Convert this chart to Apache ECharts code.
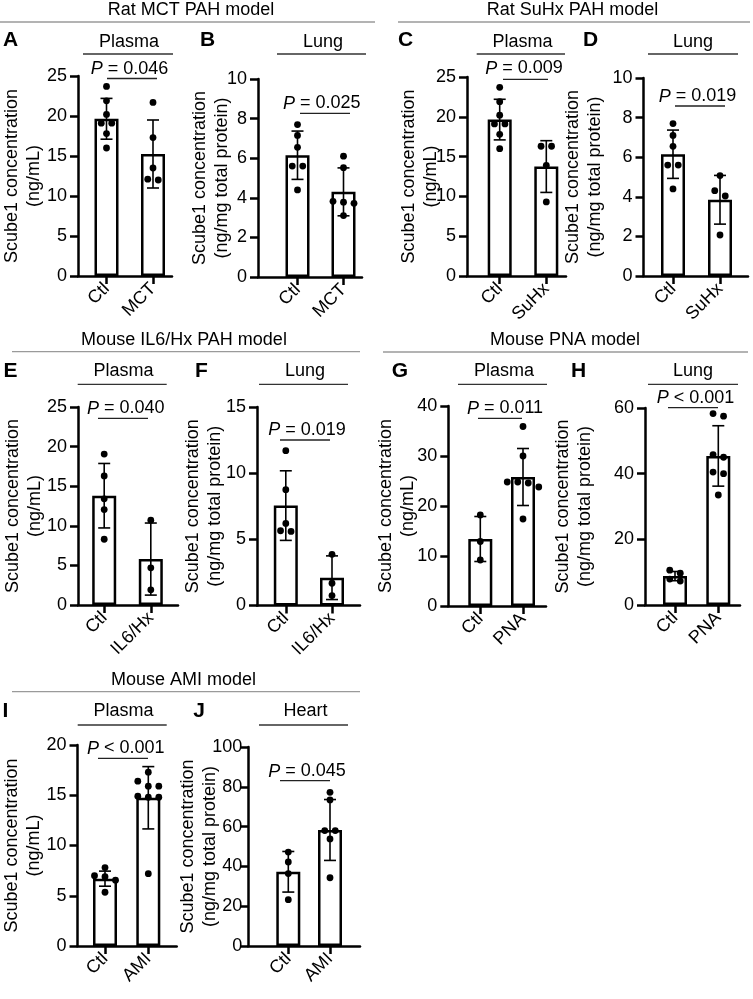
<!DOCTYPE html>
<html><head><meta charset="utf-8">
<script src="https://cdn.jsdelivr.net/npm/echarts@6/dist/echarts.min.js"></script>
<style>html,body{margin:0;padding:0;background:#fff}#c{width:753px;height:999px}</style>
</head><body><div id="c"></div>
<script>
// ===================== DATA =====================
const sectionTitles = ['Rat MCT PAH model', 'Rat SuHx PAH model', 'Mouse IL6/Hx PAH model', 'Mouse PNA model', 'Mouse AMI model'];
const panelLetters = ['A','B','C','D','E','F','G','H','I','J'];
const panelSubtitles = ['Plasma','Lung','Plasma','Lung','Plasma','Lung','Plasma','Lung','Plasma','Heart'];
const yNamePlasma = 'Scube1 concentration\n(ng/mL)';
const yNameTissue = 'Scube1 concentration\n(ng/mg total protein)';

const catsA = ['Ctl', 'MCT'];
const ticksA = [0, 5, 10, 15, 20, 25];
const meanA = [19.65, 15.25];
const sdA = [2.55, 4.25];
const ctlA = [23.7, 21.9, 20.2, 19.1, 19.1, 17.8, 16.0];
const trtA = [21.7, 17.3, 13.5, 12.1, 12.0];
const pA = '= 0.046';

const catsB = ['Ctl', 'MCT'];
const ticksB = [0, 2, 4, 6, 8, 10];
const meanB = [6.15, 4.3];
const sdB = [1.22, 1.21];
const ctlB = [7.7, 7.15, 6.55, 5.6, 5.6, 4.4];
const trtB = [6.1, 5.52, 3.82, 3.72, 3.78, 3.1];
const pB = '= 0.025';

const catsC = ['Ctl', 'SuHx'];
const ticksC = [0, 5, 10, 15, 20, 25];
const meanC = [19.65, 13.75];
const sdC = [2.55, 3.25];
const ctlC = [23.7, 21.9, 20.2, 19.1, 19.1, 17.8, 16.0];
const trtC = [16.3, 16.3, 13.9, 9.3];
const pC = '= 0.009';

const catsD = ['Ctl', 'SuHx'];
const ticksD = [0, 2, 4, 6, 8, 10];
const meanD = [6.15, 3.85];
const sdD = [1.22, 1.23];
const ctlD = [7.7, 7.1, 6.55, 5.6, 5.6, 4.4];
const trtD = [5.07, 4.31, 4.04, 2.07];
const pD = '= 0.019';

const catsE = ['Ctl', 'IL6/Hx'];
const ticksE = [0, 5, 10, 15, 20, 25];
const meanE = [13.8, 5.8];
const sdE = [4.07, 4.55];
const ctlE = [19.05, 16.3, 13.4, 12.05, 8.3];
const trtE = [10.7, 4.7, 1.92];
const pE = '= 0.040';

const catsF = ['Ctl', 'IL6/Hx'];
const ticksF = [0, 5, 10, 15];
const meanF = [7.55, 2.1];
const sdF = [2.63, 1.65];
const ctlF = [11.7, 8.75, 6.2, 5.65, 5.6];
const trtF = [3.87, 1.68, 0.75];
const pF = '= 0.019';

const catsG = ['Ctl', 'PNA'];
const ticksG = [0, 10, 20, 30, 40];
const meanG = [13.4, 25.8];
const sdG = [4.5, 5.7];
const ctlG = [18.2, 12.9, 9.2];
const trtG = [35.9, 30.0, 24.8, 24.8, 24.6, 23.8, 17.4];
const pG = '= 0.011';

const catsH = ['Ctl', 'PNA'];
const ticksH = [0, 20, 40, 60];
const meanH = [8.8, 45.4];
const sdH = [1.4, 9.2];
const ctlH = [10.6, 9.7, 7.9, 7.3];
const trtH = [58.3, 57.5, 45.8, 45.0, 40.5, 40.0, 33.5];
const pH = '< 0.001';

const catsI = ['Ctl', 'AMI'];
const ticksI = [0, 5, 10, 15, 20];
const meanI = [6.7, 14.75];
const sdI = [0.75, 3.1];
const ctlI = [7.8, 7.0, 6.9, 6.55, 5.35];
const trtI = [17.3, 16.4, 15.9, 15.9, 14.9, 14.8, 14.8, 7.2];
const pI = '< 0.001';

const catsJ = ['Ctl', 'AMI'];
const ticksJ = [0, 20, 40, 60, 80, 100];
const meanJ = [37.3, 58.3];
const sdJ = [10.2, 15.3];
const ctlJ = [47.2, 42.2, 36.4, 23.3];
const trtJ = [77.2, 73.4, 58.0, 58.0, 53.8, 34.3];
const pJ = '= 0.045';

// ===================== LAYOUT (pixels) =====================
const FONT = '"Liberation Sans", Arial, Helvetica, sans-serif';
const FS = 18;
const L = {
 A: {yx:78, end:172, t1:106.5, t2:153, top:76, bot:276, gap:33, lm:11, letter:[10.5,40], sub:[129,42.5], subLine:[83,173,54], p:[129.5,69], pLine:[107,157,78.5]},
 B: {yx:258, end:362, t1:297.5, t2:343.5, top:79, bot:277, gap:25, lm:11, letter:[207.5,40], sub:[323,42.5], subLine:[277,366,54], p:[321.7,103.5], pLine:[300,350,113.3]},
 C: {yx:467, end:566, t1:499.7, t2:546.3, top:77, bot:276, gap:25, lm:11, letter:[405.5,40], sub:[522.5,42.5], subLine:[476.7,565,54], p:[524,68.5], pLine:[503,548,79.3]},
 D: {yx:643.5, end:748, t1:673, t2:720, top:78, bot:276, gap:37, lm:11, letter:[590.5,40], sub:[693,42.5], subLine:[648,738,54], p:[697.5,96.5], pLine:[675,725,106]},
 E: {yx:78, end:178, t1:104.2, t2:150.8, top:407, bot:605, gap:32, lm:11, letter:[10.5,371], sub:[123.5,371.5], subLine:[77.7,166.7,384.3], p:[125.7,408.5], pLine:[98,148,418.3]},
 F: {yx:257, end:360, t1:285.8, t2:332, top:407, bot:605.5, gap:31, lm:11, letter:[201.5,371], sub:[305,371.5], subLine:[259,348,384.3], p:[307,430], pLine:[280,330,440]},
 G: {yx:448.3, end:546, t1:480.3, t2:523, top:406, bot:606, gap:29, lm:11, letter:[400,371], sub:[504,371.5], subLine:[458,547,384.3], p:[505,408.5], pLine:[478,522,418.3]},
 H: {yx:645, end:740, t1:675, t2:718.3, top:408, bot:605, gap:49, lm:11, letter:[578.5,371], sub:[693,371.5], subLine:[648,738,384.3], p:[695.5,398], pLine:[668,718,407.7]},
 I: {yx:77.5, end:176.7, t1:105, t2:148.3, top:745, bot:946, gap:32, lm:11, letter:[5.5,711], sub:[123.5,711], subLine:[77.7,166.7,725], p:[125.7,748.5], pLine:[98,148,758.3]},
 J: {yx:248.3, end:360, t1:288.3, t2:330, top:747, bot:946, gap:27, lm:6, letter:[199,711], sub:[305.5,711], subLine:[259,348,725], p:[307,771.5], pLine:[280,330,780.7]}
};
const sectionLayout = [
 {x:191, y:10.5, line:[0,375,22]},
 {x:572.5, y:10.5, line:[398,750,22]},
 {x:184, y:340, line:[12,360,351.7]},
 {x:565, y:340, line:[383,748,352]},
 {x:183.5, y:680.3, line:[12,360,691.7]}
];

const panels = [
 {id:'A', cats:catsA, ticks:ticksA, mean:meanA, sd:sdA, ctl:ctlA, trt:trtA, p:pA, yName:yNamePlasma},
 {id:'B', cats:catsB, ticks:ticksB, mean:meanB, sd:sdB, ctl:ctlB, trt:trtB, p:pB, yName:yNameTissue},
 {id:'C', cats:catsC, ticks:ticksC, mean:meanC, sd:sdC, ctl:ctlC, trt:trtC, p:pC, yName:yNamePlasma},
 {id:'D', cats:catsD, ticks:ticksD, mean:meanD, sd:sdD, ctl:ctlD, trt:trtD, p:pD, yName:yNameTissue},
 {id:'E', cats:catsE, ticks:ticksE, mean:meanE, sd:sdE, ctl:ctlE, trt:trtE, p:pE, yName:yNamePlasma},
 {id:'F', cats:catsF, ticks:ticksF, mean:meanF, sd:sdF, ctl:ctlF, trt:trtF, p:pF, yName:yNameTissue},
 {id:'G', cats:catsG, ticks:ticksG, mean:meanG, sd:sdG, ctl:ctlG, trt:trtG, p:pG, yName:yNamePlasma},
 {id:'H', cats:catsH, ticks:ticksH, mean:meanH, sd:sdH, ctl:ctlH, trt:trtH, p:pH, yName:yNameTissue},
 {id:'I', cats:catsI, ticks:ticksI, mean:meanI, sd:sdI, ctl:ctlI, trt:trtI, p:pI, yName:yNamePlasma},
 {id:'J', cats:catsJ, ticks:ticksJ, mean:meanJ, sd:sdJ, ctl:ctlJ, trt:trtJ, p:pJ, yName:yNameTissue}
];

// ===================== BUILD =====================
const ROW_GAP = 7, SPREAD = 10.5, DOT_R = 3.4;
function swarm(coords) {
  const pts = coords.slice().sort((a, b) => a[1] - b[1]);
  const rows = []; let cur = null;
  pts.forEach(p => {
    if (cur && p[1] - cur[0][1] < ROW_GAP) cur.push(p); else { cur = [p]; rows.push(cur); }
  });
  const out = [];
  rows.forEach(r => r.forEach((p, i) => out.push([p[0] + (i - (r.length - 1) / 2) * SPREAD, p[1]])));
  return out;
}

const grid = [], xAxis = [], yAxis = [], series = [], graphic = [];
const AX = {color:'#000', width:2.5};

panels.forEach((P, i) => {
  const g = L[P.id];
  const s = g.t2 - g.t1;
  grid.push({left:g.yx, top:g.top, width:g.end - g.yx, height:g.bot - g.top, containLabel:false, outerBoundsMode:'none'});
  xAxis.push({
    type:'value', gridIndex:i, min:-(g.t1 - g.yx) / s, max:1 + (g.end - g.t2) / s,
    axisLine:{show:true, onZero:false, lineStyle:AX},
    axisTick:{show:true, customValues:[0, 1], length:8, lineStyle:AX},
    axisLabel:{show:true, customValues:[0, 1], formatter:v => P.cats[Math.round(v)] || '', rotate:45, margin:10,
      color:'#000', fontSize:FS, fontFamily:FONT},
    splitLine:{show:false}
  });
  yAxis.push({
    type:'value', gridIndex:i, min:P.ticks[0], max:P.ticks[P.ticks.length - 1], interval:P.ticks[1] - P.ticks[0],
    axisLine:{show:true, onZero:false, lineStyle:AX},
    axisTick:{show:true, length:8, lineStyle:AX},
    axisLabel:{color:'#000', fontSize:FS, fontFamily:FONT, margin:g.lm},
    splitLine:{show:false},
    name:P.yName, nameLocation:'middle', nameRotate:90, nameGap:g.gap, nameMoveOverlap:false,
    nameTextStyle:{color:'#000', fontSize:FS, fontFamily:FONT, lineHeight:22, align:'center'}
  });
  series.push({
    type:'bar', xAxisIndex:i, yAxisIndex:i, barWidth:24, z:2,
    itemStyle:{color:'#fff', borderColor:'#000', borderWidth:2.5},
    data:[[0, P.mean[0]], [1, P.mean[1]]]
  });
  series.push({
    type:'custom', xAxisIndex:i, yAxisIndex:i, z:3, clip:false,
    encode:{x:0, y:1},
    data:[[0, P.mean[0], P.sd[0]], [1, P.mean[1], P.sd[1]]],
    renderItem:(params, api) => {
      const x = api.value(0), m = api.value(1), sd = api.value(2);
      const t = api.coord([x, m + sd]), b = api.coord([x, m - sd]);
      const cw = 6, st = {stroke:'#000', lineWidth:1.6};
      return {type:'group', children:[
        {type:'line', shape:{x1:t[0], y1:t[1], x2:b[0], y2:b[1]}, style:st},
        {type:'line', shape:{x1:t[0] - cw, y1:t[1], x2:t[0] + cw, y2:t[1]}, style:st},
        {type:'line', shape:{x1:b[0] - cw, y1:b[1], x2:b[0] + cw, y2:b[1]}, style:st}
      ]};
    }
  });
  series.push({
    type:'custom', xAxisIndex:i, yAxisIndex:i, z:4, clip:false,
    encode:{x:0, y:1},
    data:[[0, P.mean[0]], [1, P.mean[1]]],
    renderItem:(params, api) => {
      const gi = Math.round(api.value(0));
      const vals = gi === 0 ? P.ctl : P.trt;
      const pts = swarm(vals.map(v => api.coord([gi, v])));
      return {type:'group', children:pts.map(p => ({type:'circle', shape:{cx:p[0], cy:p[1], r:DOT_R}, style:{fill:'#000'}}))};
    }
  });
  // annotations
  graphic.push({type:'text', style:{text:panelLetters[i], x:g.letter[0], y:g.letter[1], fill:'#000',
    font:'bold 21px ' + FONT, align:'center', verticalAlign:'middle', textAlign:'center', textVerticalAlign:'middle'}});
  graphic.push({type:'text', style:{text:panelSubtitles[i], x:g.sub[0], y:g.sub[1], fill:'#000',
    font:FS + 'px ' + FONT, align:'center', verticalAlign:'middle', textAlign:'center', textVerticalAlign:'middle'}});
  graphic.push({type:'line', shape:{x1:g.subLine[0], y1:g.subLine[2], x2:g.subLine[1], y2:g.subLine[2]},
    style:{stroke:'#333', lineWidth:1.3}});
  graphic.push({type:'text', style:{text:'{i|P} ' + P.p, x:g.p[0], y:g.p[1], fill:'#000',
    font:FS + 'px ' + FONT, fontSize:FS, fontFamily:FONT, align:'center', verticalAlign:'middle', textAlign:'center', textVerticalAlign:'middle',
    rich:{i:{fontStyle:'italic', fontSize:FS, fontFamily:FONT, fill:'#000'}}}});
  graphic.push({type:'line', shape:{x1:g.pLine[0], y1:g.pLine[2], x2:g.pLine[1], y2:g.pLine[2]},
    style:{stroke:'#222', lineWidth:1.3}});
});

sectionTitles.forEach((t, k) => {
  const s = sectionLayout[k];
  graphic.push({type:'text', style:{text:t, x:s.x, y:s.y, fill:'#000', font:FS + 'px ' + FONT,
    align:'center', verticalAlign:'middle', textAlign:'center', textVerticalAlign:'middle'}});
  graphic.push({type:'line', shape:{x1:s.line[0], y1:s.line[2], x2:s.line[1], y2:s.line[2]},
    style:{stroke:'#9a9a9a', lineWidth:1.3}});
});

const chart = echarts.init(document.getElementById('c'), null, {renderer:'canvas'});
chart.setOption({animation:false, backgroundColor:'#fff', grid, xAxis, yAxis, series, graphic});
</script></body></html>
